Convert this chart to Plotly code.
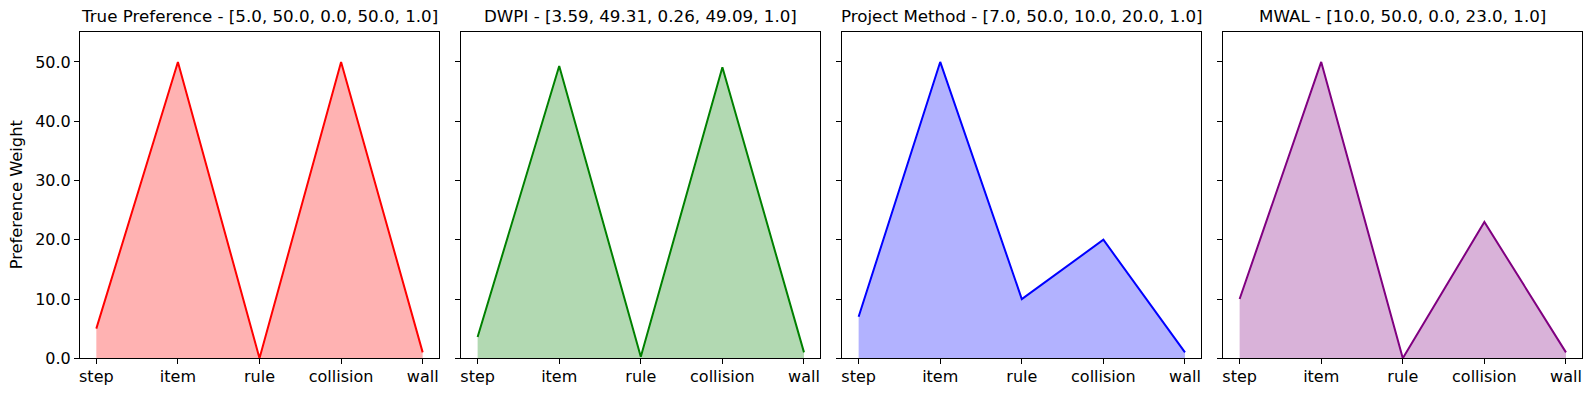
import plotly.graph_objects as go
from plotly.subplots import make_subplots

features = ["step", "item", "rule", "collision", "wall"]

true_pref = [5.0, 50.0, 0.0, 50.0, 1.0]
dwpi = [3.59, 49.31, 0.26, 49.09, 1.0]
project_method = [7.0, 50.0, 10.0, 20.0, 1.0]
mwal = [10.0, 50.0, 0.0, 23.0, 1.0]

titles = ["True Preference", "DWPI", "Project Method", "MWAL"]
series = [true_pref, dwpi, project_method, mwal]
line_colors = ["#ff0000", "#008000", "#0000ff", "#800080"]
fill_colors = ["rgba(255,0,0,0.3)", "rgba(0,128,0,0.3)",
               "rgba(0,0,255,0.3)", "rgba(128,0,128,0.3)"]

W, H = 1591, 396
fig = make_subplots(rows=1, cols=4, shared_yaxes=True)

lefts = [80, 461.3, 842.3, 1223.3]
pw = 359
y0, y1 = 1 - 358.3 / H, 1 - 32.3 / H
font = "DejaVu Sans"

for i, (name, vals) in enumerate(zip(titles, series)):
    fig.add_trace(go.Scatter(
        x=features, y=vals, mode="lines",
        line=dict(color=line_colors[i], width=2),
        fill="tozeroy", fillcolor=fill_colors[i],
        showlegend=False,
    ), row=1, col=i + 1)
    dom = [lefts[i] / W, (lefts[i] + pw) / W]
    ax = "xaxis" if i == 0 else f"xaxis{i + 1}"
    ay = "yaxis" if i == 0 else f"yaxis{i + 1}"
    fig.layout[ax].update(domain=dom)
    fig.layout[ay].update(domain=[y0, y1])
    label = "[" + ", ".join(str(v) for v in vals) + "]"
    fig.add_annotation(
        text=f"{name} - {label}", xref="paper", yref="paper",
        x=(dom[0] + dom[1]) / 2, y=y1 + 4 / H, xanchor="center", yanchor="bottom",
        showarrow=False, font=dict(family=font, size=16.7, color="black"),
    )

# y label as annotation so it sits where matplotlib puts it
fig.add_annotation(
    text="Preference Weight", xref="paper", yref="paper",
    x=16 / W, y=(y0 + y1) / 2, xanchor="center", yanchor="middle",
    textangle=-90, showarrow=False,
    font=dict(family=font, size=16.3, color="black"),
)

fig.update_xaxes(
    range=[-0.2, 4.2], showgrid=False, zeroline=False, automargin=False,
    showline=True, mirror=True, linecolor="black", linewidth=1,
    ticks="outside", ticklen=5, tickcolor="black", ticklabelstandoff=-2,
    tickfont=dict(family=font, size=16, color="black"),
)
fig.update_yaxes(
    range=[0, 55], tickvals=[0, 10, 20, 30, 40, 50], tickformat=".1f",
    showgrid=False, zeroline=False, automargin=False,
    showline=True, mirror=True, linecolor="black", linewidth=1,
    ticks="outside", ticklen=5, tickcolor="black",
    tickfont=dict(family=font, size=16, color="black"),
)

fig.update_layout(
    width=W, height=H, margin=dict(l=0, r=0, t=0, b=0),
    plot_bgcolor="white", paper_bgcolor="white",
    font=dict(family=font, color="black"),
)

# drop the default body margin so the figure fills the window exactly
fig.write_html("out.html", config={"displayModeBar": False},
               post_script="document.body.style.margin='0';")
